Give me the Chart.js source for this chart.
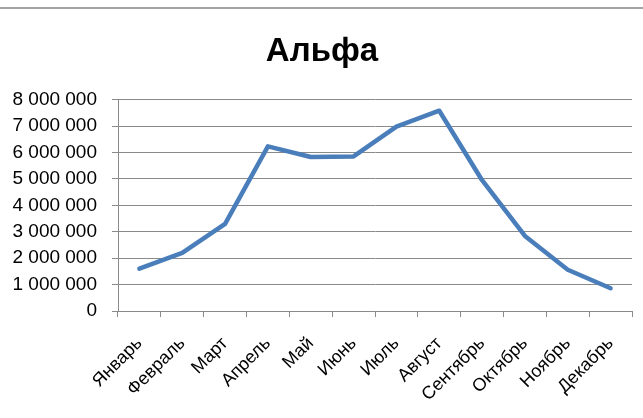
<!DOCTYPE html>
<html>
<head>
<meta charset="utf-8">
<script src="https://cdn.jsdelivr.net/npm/chart.js@4/dist/chart.umd.min.js"></script>
<style>
  html, body { margin: 0; padding: 0; background: #fff; }
  #wrap { position: relative; width: 643px; height: 418px; }
  #topline { position: absolute; left: 0; top: 7px; width: 643px; height: 2px; background: #a3a3a3; }
  canvas { position: absolute; left: 0; top: 0; }
</style>
</head>
<body>
<div id="wrap">
  <canvas id="c" width="643" height="418"></canvas>
  <div id="topline"></div>
</div>
<script>
const titleText = "Альфа";
const categories = ["Январь", "Февраль", "Март", "Апрель", "Май", "Июнь", "Июль", "Август", "Сентябрь", "Октябрь", "Ноябрь", "Декабрь"];
const seriesValues = [1600000, 2200000, 3300000, 6230000, 5830000, 5850000, 6980000, 7580000, 4950000, 2840000, 1560000, 860000];
const yMin = 0;
const yMax = 8000000;
const yStep = 1000000;

function fmt(v) {
  return String(v).replace(/\B(?=(\d{3})+(?!\d))/g, " ");
}

const FONT = "'Liberation Sans', Arial, sans-serif";
const GRID = "#8a8a8a";

new Chart(document.getElementById("c"), {
  type: "line",
  data: {
    labels: categories,
    datasets: [{
      data: seriesValues,
      borderColor: "#4a7ebb",
      backgroundColor: "#4a7ebb",
      borderWidth: 4.5,
      borderCapStyle: "round",
      borderJoinStyle: "round",
      pointRadius: 0,
      pointHoverRadius: 0,
      tension: 0,
      fill: false
    }]
  },
  options: {
    responsive: false,
    animation: false,
    devicePixelRatio: 1,
    layout: { padding: { top: 0, right: 11, bottom: 0, left: 12 } },
    plugins: {
      legend: { display: false },
      tooltip: { enabled: false },
      title: {
        display: true,
        text: titleText,
        color: "#000",
        font: { family: FONT, size: 33, weight: "bold" },
        padding: { top: 32, bottom: 28 }
      }
    },
    scales: {
      x: {
        offset: true,
        grid: {
          offset: true,
          drawOnChartArea: false,
          drawTicks: true,
          tickLength: 6,
          color: GRID,
          lineWidth: 1
        },
        border: { display: true, color: GRID, width: 1 },
        ticks: {
          autoSkip: false,
          minRotation: 45,
          maxRotation: 45,
          padding: 16,
          color: "#000",
          font: { family: FONT, size: 18 }
        },
        afterFit: (s) => { s.height = 107; s.paddingLeft = 0; s.paddingRight = 0; }
      },
      y: {
        min: yMin,
        max: yMax,
        grid: {
          drawOnChartArea: true,
          drawTicks: true,
          tickLength: 6,
          color: GRID,
          lineWidth: 1
        },
        border: { display: true, color: GRID, width: 1 },
        ticks: {
          autoSkip: false,
          stepSize: yStep,
          padding: 15,
          color: "#000",
          font: { family: FONT, size: 19 },
          callback: (v) => fmt(v)
        },
        afterFit: (s) => { s.width = 106; }
      }
    }
  }
});
</script>
</body>
</html>
